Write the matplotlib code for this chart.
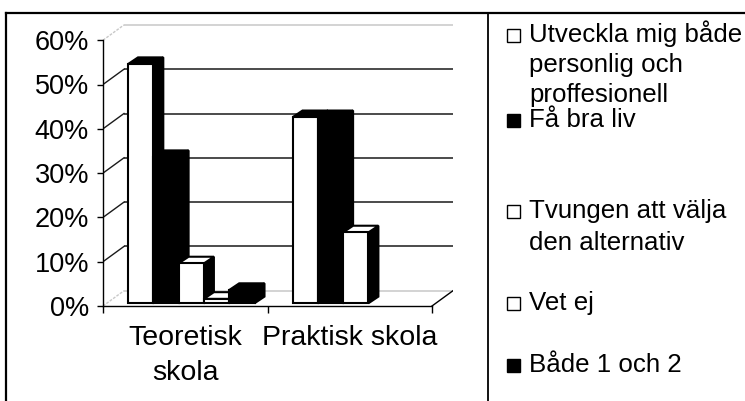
import matplotlib
matplotlib.use("Agg")
import matplotlib.pyplot as plt
from matplotlib.patches import Polygon, Rectangle
from matplotlib.lines import Line2D

plt.rcParams['font.family'] = ['Liberation Sans', 'DejaVu Sans']

# ---- data ----
categories = ["Teoretisk\nskola", "Praktisk skola"]
series_names = ["Utveckla mig både\npersonlig och\nproffesionell",
                "Få bra liv",
                "Tvungen att välja\nden alternativ",
                "Vet ej",
                "Både 1 och 2"]
utveckla = [0.54, 0.42]
fa_bra_liv = [0.33, 0.42]
tvungen = [0.09, 0.16]
vet_ej = [0.01, 0.00]
bade = [0.03, 0.00]
series_values = [utveckla, fa_bra_liv, tvungen, vet_ej, bade]
series_colors = ["white", "black", "white", "white", "black"]
yticks = [0.0, 0.1, 0.2, 0.3, 0.4, 0.5, 0.6]
ytick_labels = ["0%", "10%", "20%", "30%", "40%", "50%", "60%"]

# ---- figure geometry (pixels) ----
W, H = 745, 401
fig = plt.figure(figsize=(W / 100, H / 100), dpi=100)
px_per_cat = 164.5
px_per_unit = 443.0
xmax, ymax = 2.13, 0.64
ax_left, ax_bottom = 103, 306
ax = fig.add_axes([ax_left / W, (H - ax_bottom) / H,
                   xmax * px_per_cat / W, ymax * px_per_unit / H])
ax.set_xlim(0, xmax)
ax.set_ylim(0, ymax)
ax.patch.set_visible(False)


def dx(px):
    return px / px_per_cat


def dy(px):
    return px / px_per_unit


wall_dx, wall_dy = dx(21), dy(15.3)
front_dx, front_dy = dx(6), dy(2.7)
bar_dx, bar_dy = dx(10), dy(6.7)
ncat = len(categories)
nser = len(series_values)
bw = dx(25.3)

# back wall gridlines and side diagonals
light = "#c8c8c8"
for v in yticks:
    col = light if v in (yticks[0], yticks[-1]) else "#1a1a1a"
    ls = (0, (2, 1)) if v in (yticks[0], yticks[-1]) else "-"
    ax.plot([wall_dx, ncat + wall_dx], [v + wall_dy, v + wall_dy],
            color=col, lw=1.1, zorder=1, solid_capstyle='butt')
    ax.plot([0, wall_dx], [v, v + wall_dy], color=col, lw=1.0, ls=ls, zorder=1)
ax.plot([ncat, ncat + wall_dx], [0, wall_dy], color="black", lw=1.0, zorder=1)

# bars
z = 2
for c in range(ncat):
    for s in range(nser):
        v = series_values[s][c]
        if v <= 0:
            continue
        x0 = c + 0.5 - nser / 2 * bw + s * bw + front_dx
        y0 = front_dy
        fc = series_colors[s]
        top_col = "black" if (fc == "black" or v > 0.3) else "white"
        front = Rectangle((x0, y0), bw, v, facecolor=fc, edgecolor="black",
                          lw=1.5, zorder=z)
        side = Polygon([(x0 + bw, y0), (x0 + bw, y0 + v),
                        (x0 + bw + bar_dx, y0 + v + bar_dy),
                        (x0 + bw + bar_dx, y0 + bar_dy)],
                       closed=True, facecolor="black", edgecolor="black",
                       lw=1.5, zorder=z)
        top = Polygon([(x0, y0 + v), (x0 + bw, y0 + v),
                       (x0 + bw + bar_dx, y0 + v + bar_dy),
                       (x0 + bar_dx, y0 + v + bar_dy)],
                      closed=True, facecolor=top_col, edgecolor="black",
                      lw=1.5, zorder=z)
        ax.add_patch(side)
        ax.add_patch(top)
        ax.add_patch(front)
        z += 1

# axes / ticks
for sp in ["top", "right"]:
    ax.spines[sp].set_visible(False)
ax.spines["left"].set_bounds(0, yticks[-1])
ax.spines["bottom"].set_bounds(0, ncat)
ax.spines["left"].set_linewidth(1.0)
ax.spines["bottom"].set_linewidth(1.0)
ax.set_yticks(yticks)
ax.set_yticklabels(ytick_labels, fontsize=19.5)
ax.tick_params(axis="y", direction="out", length=4, width=1.0, pad=6)
ax.set_xticks(range(ncat + 1))
ax.set_xticklabels([""] * (ncat + 1))
ax.tick_params(axis="x", which="major", direction="out", length=5, width=1.0)
ax.set_xticks([c + 0.5 for c in range(ncat)], minor=True)
ax.set_xticklabels(categories, minor=True, fontsize=20.5, linespacing=1.45)
ax.tick_params(axis="x", which="minor", length=0, pad=14)

# chart frame
def fx(px):
    return px / W


def fy(py):
    return 1 - py / H


fig.add_artist(Line2D([fx(6), fx(745)], [fy(12.5), fy(12.5)], color="black", lw=1.6))
fig.add_artist(Line2D([fx(6), fx(6)], [fy(12.5), fy(401)], color="black", lw=1.6))
fig.add_artist(Line2D([fx(487.5), fx(487.5)], [fy(12.5), fy(401)], color="black", lw=1.3))

# legend
legend_baselines = [[41.7, 72.0, 102.3], [126.7], [218.3, 249.5], [310.0], [371.7]]
for s in range(nser):
    lines = series_names[s].split("\n")
    bl = legend_baselines[s]
    fig.add_artist(Rectangle((fx(507), fy(bl[0])), 13 / W, 13 / H,
                             transform=fig.transFigure,
                             facecolor=series_colors[s], edgecolor="black", lw=1.0))
    for k, line in enumerate(lines):
        fig.text(fx(529), fy(bl[k]), line, fontsize=18.6, va="baseline", ha="left")

fig.savefig("out.png", dpi=100)
